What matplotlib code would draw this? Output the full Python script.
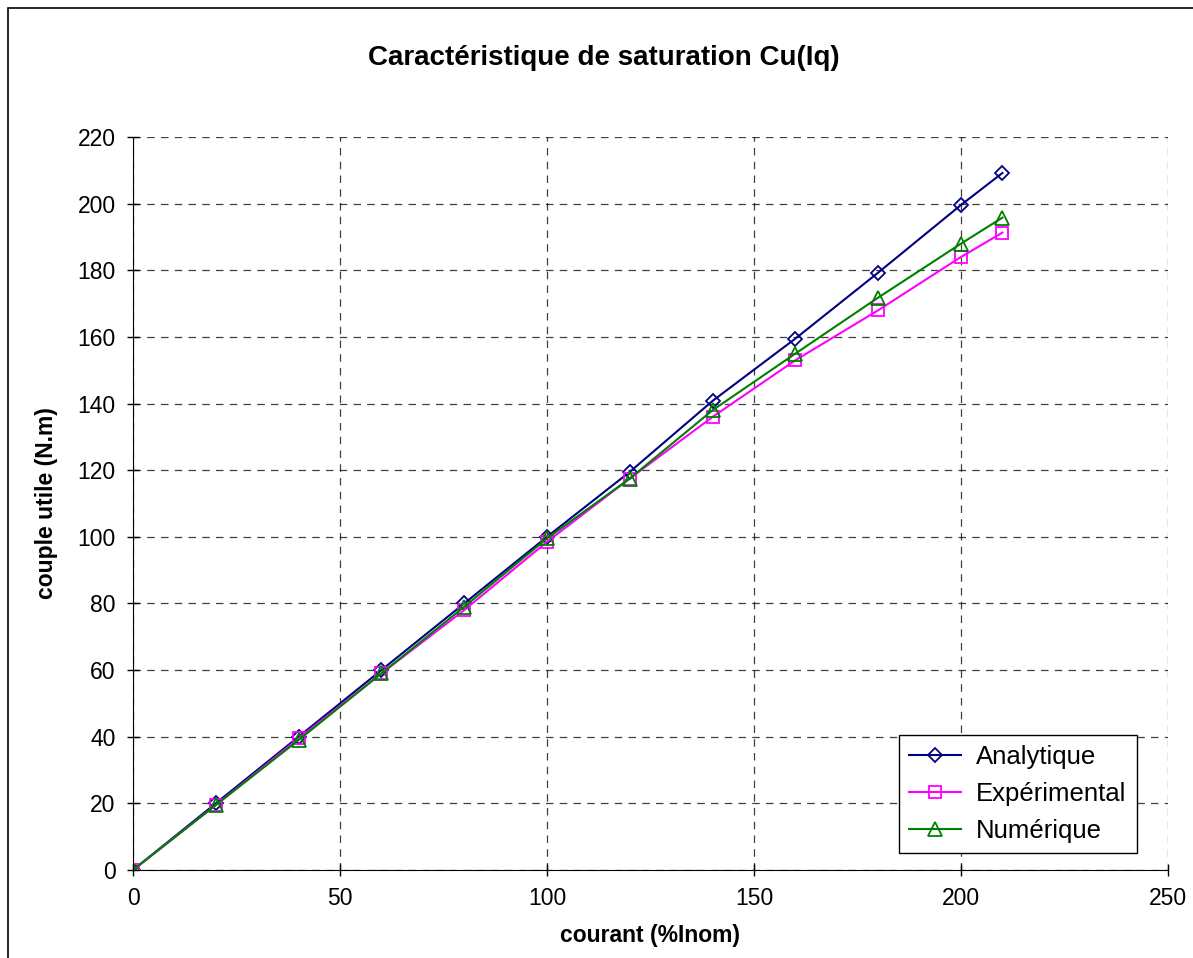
import matplotlib.pyplot as plt
from matplotlib.patches import Rectangle

plt.rcParams['font.family'] = ['Liberation Sans', 'DejaVu Sans']

# Data
courant = [0, 20, 40, 60, 80, 100, 120, 140, 160, 180, 200, 210]
analytique = [0, 20, 40, 60, 80, 100, 119.5, 140.8, 159.5, 179.3, 199.6, 209.2]
experimental = [0, 19.5, 39.5, 59, 78, 98.5, 117.5, 136, 153, 168, 184, 191.3]
numerique = [0, 19.5, 39, 59, 79, 99.5, 117.5, 138, 155, 171.8, 188, 195.8]

fig = plt.figure(figsize=(11.93, 9.58), dpi=100)
# outer chart frame
fig.patches.append(Rectangle((8 / 1193, -0.01), 1.2, 1 - 8 / 958 + 0.01,
                             transform=fig.transFigure, fill=False,
                             edgecolor='black', linewidth=1.2))

ax = fig.add_axes([133 / 1193, 1 - 870 / 958, (1168 - 133) / 1193, (870 - 137) / 958])

ax.plot(courant, analytique, color='#000080', marker='D', markersize=7,
        markerfacecolor='none', markeredgewidth=1.3, linewidth=1.5, label='Analytique')
ax.plot(courant, experimental, color='#ff00ff', marker='s', markersize=8.5,
        markerfacecolor='none', markeredgewidth=1.3, linewidth=1.5, label='Expérimental')
ax.plot(courant, numerique, color='#008000', marker='^', markersize=10,
        markerfacecolor='none', markeredgewidth=1.3, linewidth=1.5, label='Numérique')

ax.set_xlim(0, 250)
ax.set_ylim(0, 220)
ax.set_xticks(range(0, 251, 50))
ax.set_yticks(range(0, 221, 20))
ax.tick_params(labelsize=16.5, direction='inout', length=9, width=1, pad=8)
ax.grid(True, color='black', linestyle=(0, (6, 5)), linewidth=0.9, alpha=0.75)
ax.spines['top'].set_visible(False)
ax.spines['right'].set_visible(False)

fig.text(604 / 1193, 1 - 58 / 958, 'Caractéristique de saturation Cu(Iq)',
         fontsize=20, fontweight='bold', ha='center', va='center')
ax.set_xlabel('courant (%Inom)', fontsize=16.5, fontweight='bold', labelpad=10)
ax.set_ylabel('couple utile (N.m)', fontsize=16.5, fontweight='bold', labelpad=14)

leg = ax.legend(loc='lower right', bbox_to_anchor=(0.970, 0.023), fontsize=18.5,
                fancybox=False, framealpha=1, edgecolor='black',
                handlelength=2.0, handletextpad=0.6, borderpad=0.4,
                labelspacing=0.5, borderaxespad=0)
leg.get_frame().set_linewidth(1.0)

fig.savefig('out.png', dpi=100)
